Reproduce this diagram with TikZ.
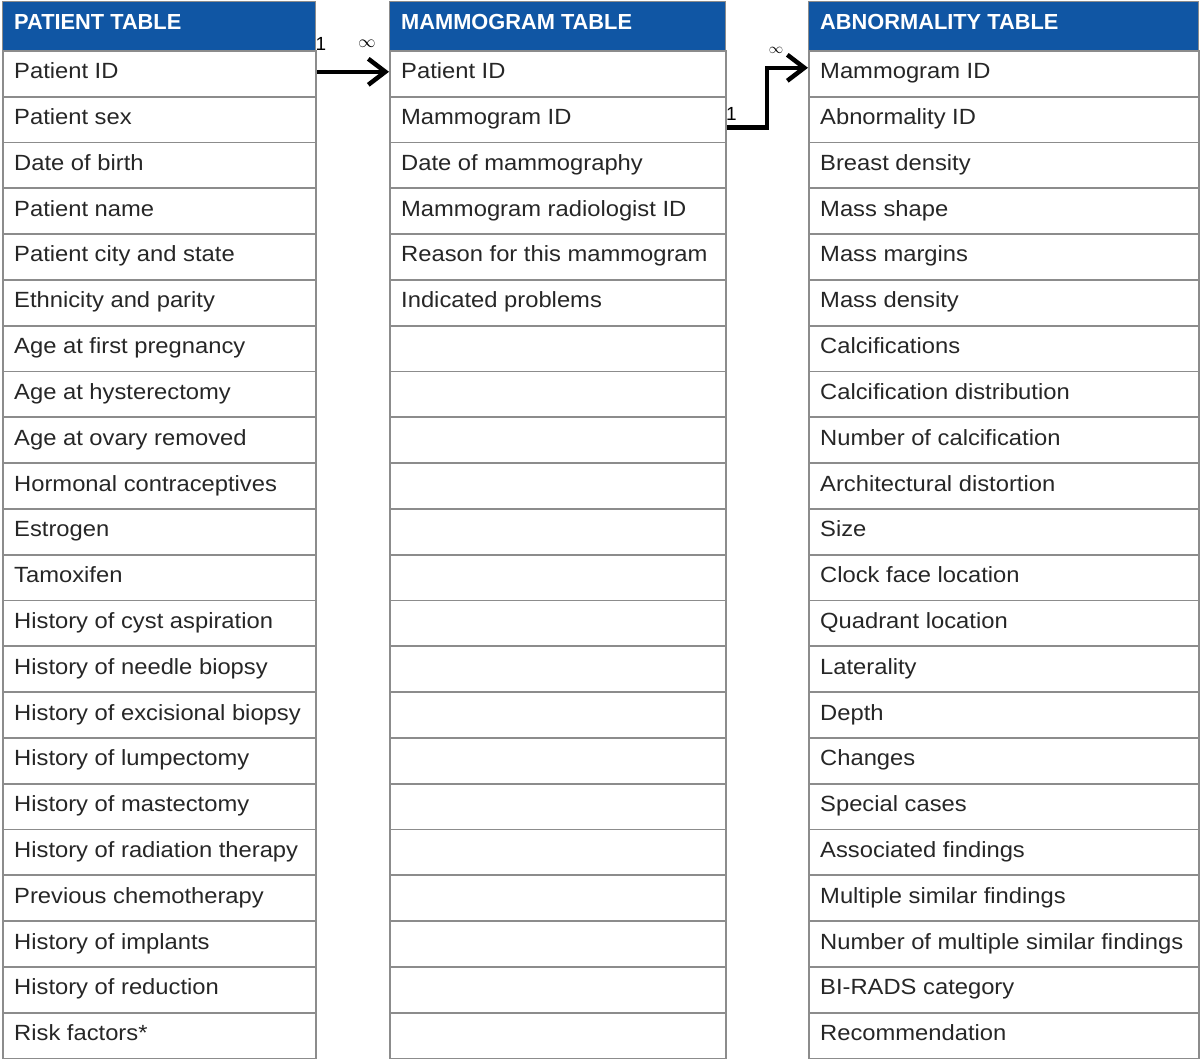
\documentclass[tikz,border=0pt]{standalone}
\usepackage{fontspec}
\setmainfont{Liberation Sans}[FakeStretch=1.08]
\newfontfamily\hfont{Liberation Sans}
\usetikzlibrary{arrows.meta,calc}
\definecolor{hdblue}{RGB}{16,86,164}
\definecolor{bordergray}{RGB}{140,140,140}
\tikzset{
  cell/.style={draw=bordergray, line width=1.8pt, anchor=north west, minimum height=45.8pt, inner sep=0pt},
  hdr/.style={fill=hdblue, draw=bordergray, line width=1pt, anchor=north west, minimum height=49pt, inner sep=0pt},
  txt/.style={anchor=base west, inner sep=0pt, font=\fontsize{22}{26}\selectfont, text=black!85},
  htxt/.style={anchor=base west, inner sep=0pt, font=\hfont\bfseries\fontsize{21.8}{25}\selectfont, text=white},
  card/.style={inner sep=0pt, font=\hfont\fontsize{19}{22}\selectfont},
  conn/.style={line width=4.5pt, line join=miter, -{Straight Barb[length=17pt,width=26pt]}}
}
\begin{document}
\begin{tikzpicture}[x=1pt,y=-1pt]
\useasboundingbox (0,0) rectangle (1200,1059);
% Patient table
\foreach \t [count=\i] in {Patient ID, Patient sex, Date of birth, Patient name, Patient city and state, Ethnicity and parity, Age at first pregnancy, Age at hysterectomy, Age at ovary removed, Hormonal contraceptives, Estrogen, Tamoxifen, History of cyst aspiration, History of needle biopsy, History of excisional biopsy, History of lumpectomy, History of mastectomy, History of radiation therapy, Previous chemotherapy, History of implants, History of reduction, Risk factors*}{
  \node[cell, minimum width=313pt] (p\i) at (2,{50+(\i-1)*45.8}) {};
  \node[txt] (pt\i) at ($(p\i.west)+(12,5)$) {\t};
}
\node[hdr, minimum width=313pt] (ph) at (2,1) {};
\node[htxt] (pht) at ($(ph.west)+(12,4)$) {PATIENT TABLE};
% Mammogram table
\foreach \i in {1,...,22}{
  \node[cell, minimum width=336pt] (m\i) at (389,{50+(\i-1)*45.8}) {};
}
\foreach \t [count=\i] in {Patient ID, Mammogram ID, Date of mammography, Mammogram radiologist ID, Reason for this mammogram, Indicated problems}{
  \node[txt] (mt\i) at ($(m\i.west)+(12,5)$) {\t};
}
\node[hdr, minimum width=336pt] (mh) at (389,1) {};
\node[htxt] (mht) at ($(mh.west)+(12,4)$) {MAMMOGRAM TABLE};
% Abnormality table
\foreach \t [count=\i] in {Mammogram ID, Abnormality ID, Breast density, Mass shape, Mass margins, Mass density, Calcifications, Calcification distribution, Number of calcification, Architectural distortion, Size, Clock face location, Quadrant location, Laterality, Depth, Changes, Special cases, Associated findings, Multiple similar findings, Number of multiple similar findings, BI-RADS category, Recommendation}{
  \node[cell, minimum width=390pt] (a\i) at (808,{50+(\i-1)*45.8}) {};
  \node[txt] (at\i) at ($(a\i.west)+(12,5)$) {\t};
}
\node[hdr, minimum width=390pt] (ah) at (808,1) {};
\node[htxt] (aht) at ($(ah.west)+(12,4)$) {ABNORMALITY TABLE};
% connectors
\draw[conn] ($(p1.east)+(0,-2)$) -- ($(m1.west)+(0,-2)$);
\draw[conn] ($(m2.east)+(0,8)$) -| ($(a1.west)+(-41,-6)$) -- ($(a1.west)+(0,-6)$);
% cardinalities
\node[card] (c1) at (321,44) {1};
\node[card] (c2) at (367,43.5) {\fontsize{17}{18}\selectfont$\infty$};
\node[card] (c3) at (731.5,113.5) {1};
\node[card] (c4) at (776,50) {\fontsize{14}{16}\selectfont$\infty$};
\end{tikzpicture}
\end{document}
